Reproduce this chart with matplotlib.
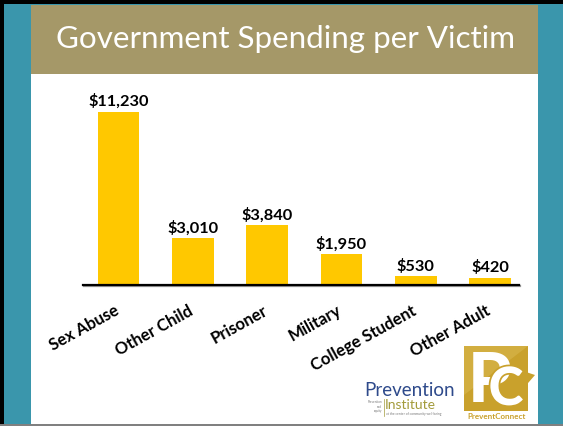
import matplotlib
matplotlib.use("Agg")
import matplotlib.pyplot as plt
from matplotlib.patches import Rectangle, Polygon
from matplotlib.transforms import ScaledTranslation
import matplotlib.patheffects as pe

categories = ["Sex Abuse", "Other Child", "Prisoner", "Military", "College Student", "Other Adult"]
values = [11230, 3010, 3840, 1950, 530, 420]
value_labels = ["$11,230", "$3,010", "$3,840", "$1,950", "$530", "$420"]
title = "Government Spending per Victim"

W, H = 563, 426
fig = plt.figure(figsize=(W / 100, H / 100), dpi=100)
fig.patch.set_facecolor("black")

def rect(x0, y0, x1, y1, color, z=0, **kw):
    # pixel coords (top-left origin)
    r = Rectangle((x0 / W, 1 - y1 / H), (x1 - x0) / W, (y1 - y0) / H,
                  transform=fig.transFigure, facecolor=color, edgecolor="none", zorder=z, **kw)
    fig.add_artist(r)
    return r

def fx(x):
    return x / W

def fy(y):
    return 1 - y / H

TEAL = "#3A96AC"
BAND = "#A59868"
GOLD = "#FFC800"

rect(4, 4, 563, 424, TEAL, z=-3)
rect(0, 424, 563, 426, "#808080", z=-3)
rect(31, 74, 538, 424, "white", z=-2)
rect(31, 5, 538, 74, BAND, z=-2)

fig.text(fx(285.5), fy(48), title, color="white", fontsize=22.6, family="Lato",
         ha="center", va="baseline", zorder=2)

# chart axes
ax = fig.add_axes([83 / W, (H - 284.5) / H, 436 / W, 194.5 / H])
ax.set_zorder(1)
ax.set_facecolor("none")
x = list(range(len(categories)))
bars = ax.bar(x, values, width=0.56, color=GOLD, zorder=2)
ax.set_xlim(-0.479, 5.39)
ax.set_ylim(0, 12630)
for s in ["top", "right", "left"]:
    ax.spines[s].set_visible(False)
ax.spines["bottom"].set_linewidth(1.6)
ax.spines["bottom"].set_zorder(3)
ax.spines["bottom"].set_path_effects([
    pe.SimpleLineShadow(offset=(0.6, -1.2), shadow_color="#555555", alpha=0.6),
    pe.Normal()])
ax.set_yticks([])
ax.set_xticks(x)
ax.set_xticklabels(categories, rotation=29, ha="right", va="top",
                   fontsize=12, fontweight="bold", family="Lato")
ax.tick_params(axis="x", length=0, pad=13)
off = ScaledTranslation(3 / 100, 0, fig.dpi_scale_trans)
for lab in ax.get_xticklabels():
    lab.set_transform(lab.get_transform() + off)

for xi, v, lab in zip(x, values, value_labels):
    ax.annotate(lab, (xi, v), xytext=(0, 2), textcoords="offset points",
                ha="center", va="bottom", fontsize=11.8, fontweight="bold",
                family="Lato", color="black", annotation_clip=False)

# Prevention Institute logo
rect(362, 378, 454, 420, "white", z=2, linewidth=0.4)
fig.text(fx(410), fy(395.5), "Prevention", color="#2E4A8B", fontsize=13.5,
         family="Lato", ha="center", va="baseline", zorder=3)
fig.text(fx(385), fy(409), "Institute", color="#A39B3B", fontsize=10,
         family="Lato", ha="left", va="baseline", zorder=3)
fig.text(fx(382), fy(400), "Prevention\nand\nequity", color="#777777", fontsize=2.2,
         family="Lato", ha="right", va="top", zorder=3, linespacing=1.2)
fig.text(fx(386), fy(414.5), "at the center of community well-being", color="#777777",
         fontsize=2.3, family="Lato", ha="left", va="baseline", zorder=3)
fig.add_artist(plt.Line2D([fx(383.5), fx(383.5)], [fy(399), fy(416)], color="#A39B3B",
                          linewidth=0.5, transform=fig.transFigure, zorder=3))

# PreventConnect logo
PCG = "#C9A12C"
rect(464, 346, 528, 411, PCG, z=2)
fig.add_artist(Polygon([(fx(464), fy(346)), (fx(528), fy(346)), (fx(464), fy(395))],
                       closed=True, facecolor="#D9B84F", edgecolor="none",
                       transform=fig.transFigure, zorder=2.1, alpha=0.6))
fig.add_artist(Polygon([(fx(520), fy(370)), (fx(535), fy(375)), (fx(522), fy(390))],
                       closed=True, facecolor=PCG, edgecolor="none",
                       transform=fig.transFigure, zorder=2))
fig.text(fx(468), fy(402), "P", color="white", fontsize=50, fontweight="black",
         family="Lato", ha="left", va="baseline", zorder=3)
fig.text(fx(506), fy(405), "C", color="white", fontsize=38, fontweight="black",
         family="Lato", ha="center", va="baseline", zorder=3.1,
         path_effects=[pe.withStroke(linewidth=2.5, foreground=PCG)])
fig.text(fx(497), fy(419), "PreventConnect", color=PCG, fontsize=5.8, fontweight="bold",
         family="Lato", ha="center", va="baseline", zorder=3)

fig.savefig("out.png", dpi=100, facecolor=fig.get_facecolor())
